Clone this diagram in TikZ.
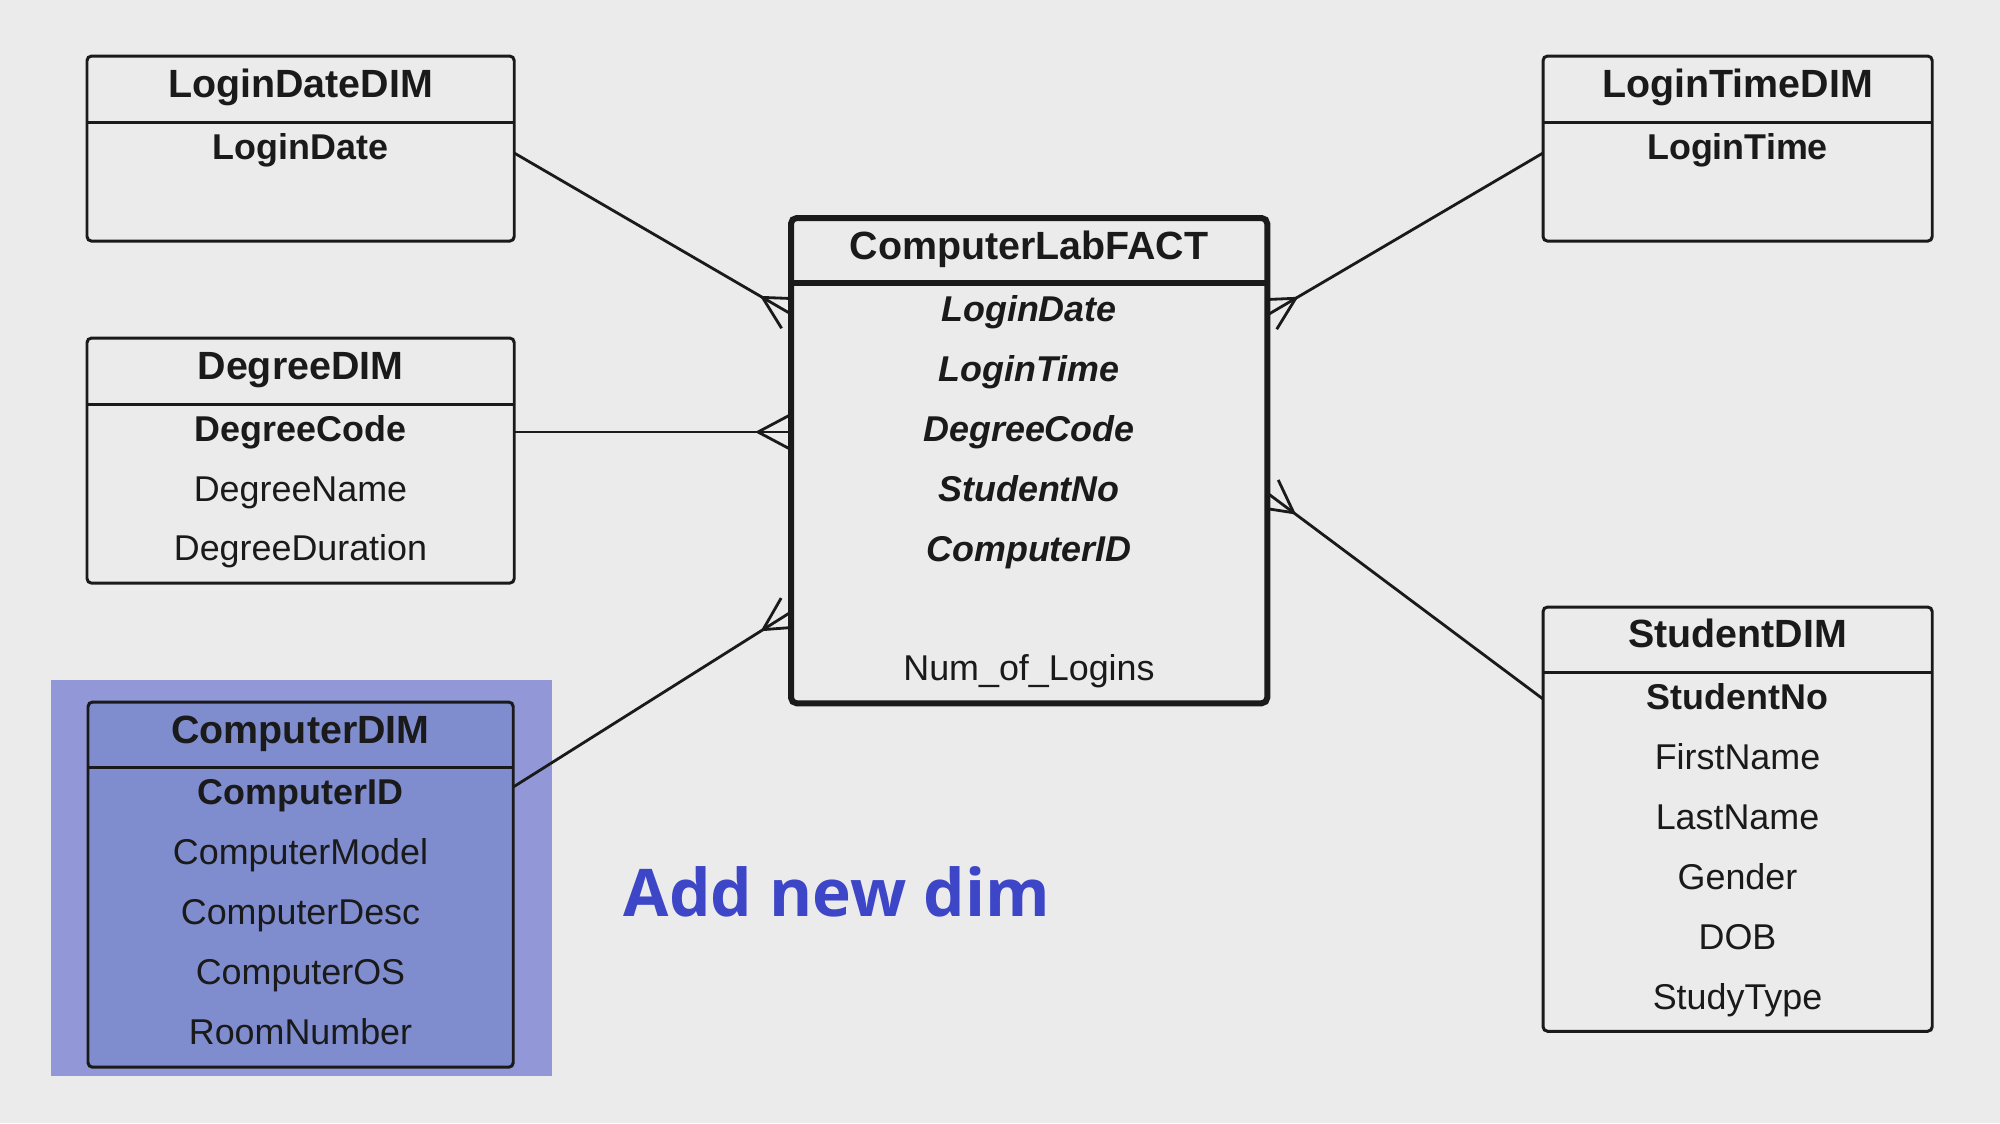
\documentclass[tikz,border=0pt]{standalone}
\usepackage{fontspec}
\setmainfont{Liberation Sans}
\newfontfamily\addfont{Open Sans}
\usetikzlibrary{calc}
\definecolor{bgc}{HTML}{EBEBEC}
\definecolor{hlc}{HTML}{9297D7}
\definecolor{hlbox}{HTML}{7F8DCF}
\definecolor{addblue}{HTML}{3E46C8}
\definecolor{ink}{HTML}{1A1A1A}
\tikzset{
  tbl/.style={draw=ink, line width=0.85pt, rounded corners=1.3pt, inner sep=0pt, outer sep=0pt, anchor=north west},
  facttbl/.style={tbl, line width=1.7pt, rounded corners=1.6pt},
  sepline/.style={draw=ink, line width=0.85pt},
  factsep/.style={draw=ink, line width=1.7pt},
  ttl/.style={font=\fontsize{11.2}{13}\selectfont\bfseries, text=ink, inner sep=0pt, text height=0.72em, text depth=0pt},
  pk/.style={font=\fontsize{10.2}{12}\selectfont\bfseries, text=ink, inner sep=0pt, text height=0.72em, text depth=0pt},
  att/.style={font=\fontsize{10.2}{12}\selectfont, text=ink, inner sep=0pt, text height=0.72em, text depth=0pt},
  fk/.style={font=\fontsize{10.2}{12}\selectfont\bfseries\itshape, text=ink, inner sep=0pt, text height=0.72em, text depth=0pt},
  conn/.style={draw=ink, line width=0.8pt},
}
% #1 start, #2 end on fact edge, #3 clip rectangle corner a, #4 corner b
\newcommand\crowconn[4]{%
  \draw[conn] (#1) -- (#2);
  \path ($(#2)!0.33cm!(#1)$) coordinate (cfp);
  \begin{scope}
    \clip (#3) rectangle (#4);
    \draw[conn] ($(cfp)!1.1!28:(#2)$) -- (cfp) -- ($(cfp)!1.1!-28:(#2)$);
  \end{scope}
}
\begin{document}
\begin{tikzpicture}[x=0.01cm,y=-0.01cm]
\fill[bgc] (0,0) rectangle (2000,1123);
\useasboundingbox (0,0) rectangle (2000,1123);

% highlight behind ComputerDIM
\node[fill=hlc, inner sep=0pt, anchor=north west, minimum width=5.01cm, minimum height=3.96cm] (hl) at (50,679) {};

% LoginDateDIM
\node[tbl, fill=bgc, minimum width=4.27cm, minimum height=1.85cm] (ldd) at (87,56) {};
\draw[sepline] (87,122) -- (514,122);
\node[ttl] (ldd-t) at (300.5,85) {LoginDateDIM};
\node[pk] (ldd-1) at (300.5,147) {LoginDate};

% LoginTimeDIM
\node[tbl, fill=bgc, minimum width=3.89cm, minimum height=1.85cm] (ltd) at (1543,56) {};
\draw[sepline] (1543,122) -- (1932,122);
\node[ttl] (ltd-t) at (1737.5,85) {LoginTimeDIM};
\node[pk] (ltd-1) at (1737.5,147) {LoginTime};

% DegreeDIM
\node[tbl, fill=bgc, minimum width=4.27cm, minimum height=2.45cm] (dd) at (87,338) {};
\draw[sepline] (87,404) -- (514,404);
\node[ttl] (dd-t) at (300.5,367) {DegreeDIM};
\node[pk] (dd-1) at (300.5,429) {DegreeCode};
\node[att] (dd-2) at (300.5,489) {DegreeName};
\node[att] (dd-3) at (300.5,548) {DegreeDuration};

% ComputerDIM
\node[tbl, fill=hlbox, minimum width=4.25cm, minimum height=3.65cm] (cd) at (88,702) {};
\draw[sepline] (88,767) -- (513,767);
\node[ttl] (cd-t) at (300.5,731) {ComputerDIM};
\node[pk] (cd-1) at (300.5,792) {ComputerID};
\node[att] (cd-2) at (300.5,852) {ComputerModel};
\node[att] (cd-3) at (300.5,912) {ComputerDesc};
\node[att] (cd-4) at (300.5,972) {ComputerOS};
\node[att] (cd-5) at (300.5,1032) {RoomNumber};

% StudentDIM
\node[tbl, fill=bgc, minimum width=3.89cm, minimum height=4.24cm] (sd) at (1543,607) {};
\draw[sepline] (1543,672) -- (1932,672);
\node[ttl] (sd-t) at (1737.5,635) {StudentDIM};
\node[pk] (sd-1) at (1737.5,697) {StudentNo};
\node[att] (sd-2) at (1737.5,757) {FirstName};
\node[att] (sd-3) at (1737.5,817) {LastName};
\node[att] (sd-4) at (1737.5,877) {Gender};
\node[att] (sd-5) at (1737.5,937) {DOB};
\node[att] (sd-6) at (1737.5,997) {StudyType};

% ComputerLabFACT
\node[facttbl, fill=bgc, minimum width=4.76cm, minimum height=4.85cm] (fact) at (791,218) {};
\draw[factsep] (791,283) -- (1267,283);
\node[ttl] (f-t) at (1029,247) {ComputerLabFACT};
\node[fk] (f-1) at (1029,309) {LoginDate};
\node[fk] (f-2) at (1029,369) {LoginTime};
\node[fk] (f-3) at (1029,429) {DegreeCode};
\node[fk] (f-4) at (1029,489) {StudentNo};
\node[fk] (f-5) at (1029,549) {ComputerID};
\node[att] (f-6) at (1029,668) {Num\_of\_Logins};

% connector end points on the box edges
\coordinate (ldd-c) at (ldd.east |- 0,153);
\coordinate (ltd-c) at (ltd.west |- 0,153);
\coordinate (dd-c) at (dd.east |- 0,432);
\coordinate (sd-c) at (sd.west |- 0,699);
\coordinate (cd-c) at (cd.east |- 0,787);
\coordinate (fc1) at (fact.west |- 0,314);
\coordinate (fc2) at (fact.east |- 0,315);
\coordinate (fc3) at (fact.west |- 0,432);
\coordinate (fc4) at (fact.east |- 0,493);
\coordinate (fc5) at (fact.west |- 0,612);
\coordinate (clipL) at (fact.west |- 0,1123);
\coordinate (clipR) at (fact.east |- 0,0);

\crowconn{ldd-c}{fc1}{0,0}{clipL}
\crowconn{ltd-c}{fc2}{clipR}{2000,1123}
\crowconn{dd-c}{fc3}{0,0}{clipL}
\crowconn{sd-c}{fc4}{clipR}{2000,1123}
\crowconn{cd-c}{fc5}{0,0}{clipL}

% caption
\node[anchor=base west, inner sep=0pt, text=addblue, font=\addfont\bfseries\fontsize{18.7}{22}\selectfont] (add) at (623,916) {Add new dim};
\end{tikzpicture}
\end{document}
